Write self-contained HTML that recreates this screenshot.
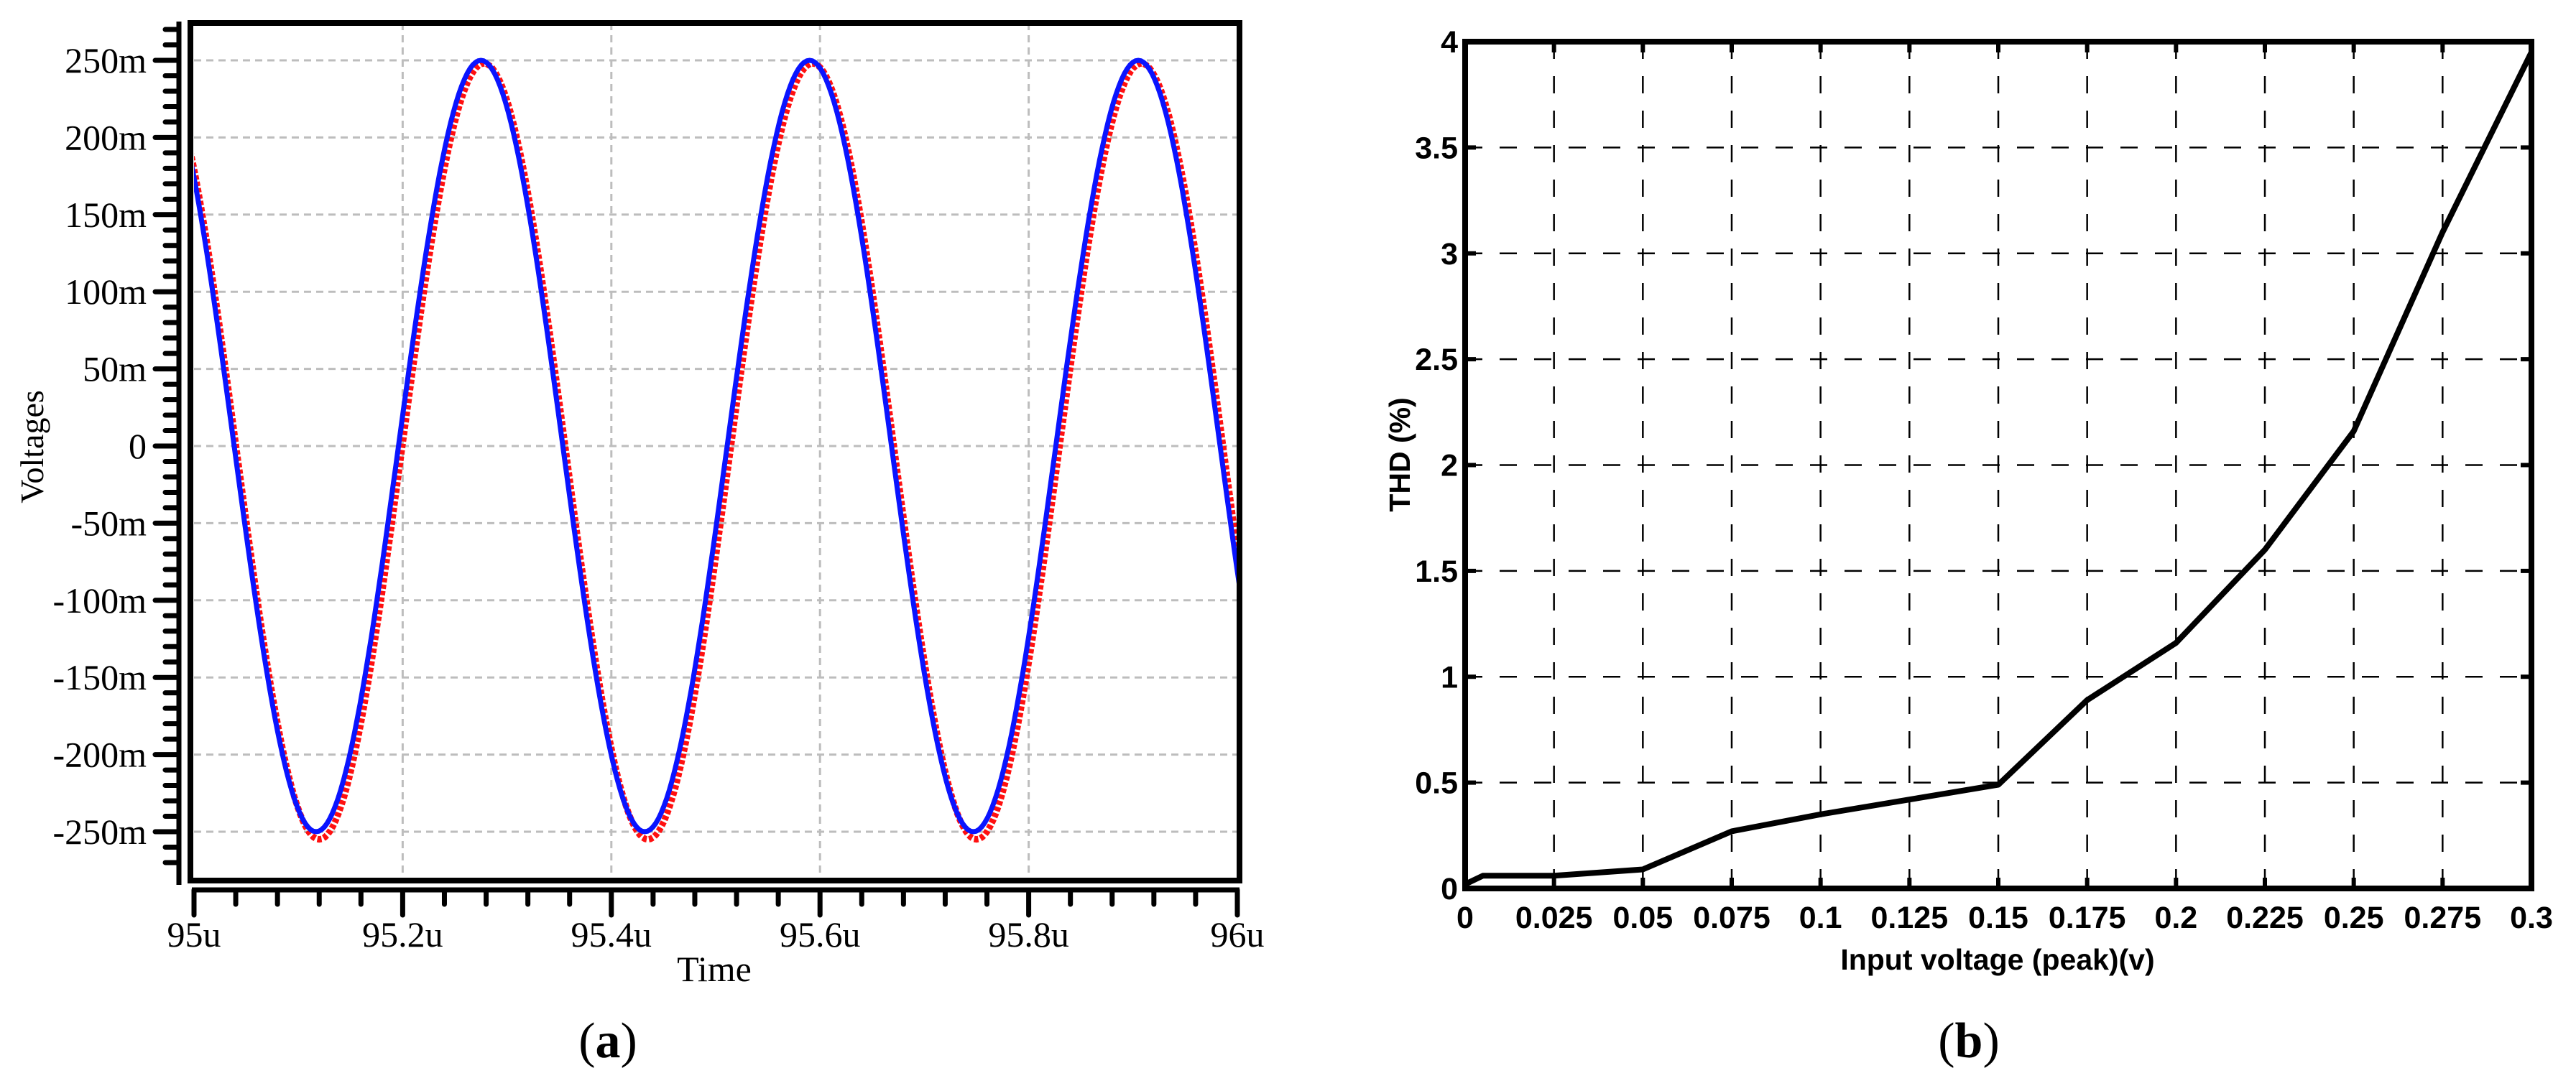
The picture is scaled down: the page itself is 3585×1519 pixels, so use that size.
<!DOCTYPE html>
<html><head><meta charset="utf-8"><style>
html,body{margin:0;padding:0;background:#fff;}
svg{display:block;}
</style></head><body>
<svg id="fig" width="3585" height="1519" viewBox="0 0 3585 1519" xmlns="http://www.w3.org/2000/svg">
<g id="chartA"></g>
<g id="chartB"></g>
<text x="846" y="1472" font-family="Liberation Serif, serif" font-size="70" text-anchor="middle">(<tspan font-weight="bold">a</tspan>)</text>
<text x="2740" y="1472" font-family="Liberation Serif, serif" font-size="70" text-anchor="middle">(<tspan font-weight="bold">b</tspan>)</text>
</svg>
<script>
const NS='http://www.w3.org/2000/svg';
// ---- Chart A data ----
const aXTicks=[95,95.2,95.4,95.6,95.8,96];
const aXTickLabels=['95u','95.2u','95.4u','95.6u','95.8u','96u'];
const aYTicks=[250,200,150,100,50,0,-50,-100,-150,-200,-250];
const aYTickLabels=['250m','200m','150m','100m','50m','0','-50m','-100m','-150m','-200m','-250m'];
// extrema (time in us, value in mV) of each waveform, incl. virtual extrema outside view
const blueExtTimes=[94.960,95.117,95.275,95.432,95.590,95.747,95.905,96.062];
const blueExtValues=[250,-250,250,-250,250,-250,250,-250];
const redExtTimes=[94.962,95.120,95.278,95.435,95.593,95.750,95.908,96.066];
const redExtValues=[248,-255,248,-255,248,-255,248,-255];
// ---- Chart B data ----
const bXTicks=[0,0.025,0.05,0.075,0.1,0.125,0.15,0.175,0.2,0.225,0.25,0.275,0.3];
const bXTickLabels=['0','0.025','0.05','0.075','0.1','0.125','0.15','0.175','0.2','0.225','0.25','0.275','0.3'];
const bYTicks=[0,0.5,1,1.5,2,2.5,3,3.5,4];
const bYTickLabels=['0','0.5','1','1.5','2','2.5','3','3.5','4'];
const thdX=[0,0.005,0.025,0.05,0.075,0.1,0.125,0.15,0.175,0.2,0.225,0.25,0.275,0.3];
const thdY=[0.02,0.06,0.06,0.09,0.27,0.35,0.42,0.49,0.89,1.16,1.6,2.16,3.1,3.95];

function mk(parent,tag,attrs){const e=document.createElementNS(NS,tag);for(const k in attrs)e.setAttribute(k,attrs[k]);parent.appendChild(e);return e;}

// ===== Chart A =====
(function(){
const g=document.getElementById('chartA');
const L=270,R=1722,T=32,B=1226;
const xA=t=>L+(t-95)/(96-95)*(R-L);
const yA=v=>84+(250-v)/500*(1158-84);
aXTicks.forEach((t,i)=>{ if(i==0||i==aXTicks.length-1) return;
 const l=mk(g,'line',{x1:xA(t),x2:xA(t),y1:T,y2:B,stroke:'#bdbdbd','stroke-width':3,'stroke-dasharray':'10 7'});
 
 
});
aYTicks.forEach(v=>{
 const l=mk(g,'line',{x1:L,x2:R,y1:yA(v),y2:yA(v),stroke:'#bdbdbd','stroke-width':3,'stroke-dasharray':'10 7'});
 
 
});
function curve(times,vals){
 let d='';
 for(let i=0;i<times.length-1;i++){
  const n=60;
  for(let k=0;k<=n;k++){
   const f=k/n, t=times[i]+(times[i+1]-times[i])*f;
   const v=vals[i]+(vals[i+1]-vals[i])*(1-Math.cos(Math.PI*f))/2;
   d+=(d?'L':'M')+xA(t).toFixed(1)+' '+yA(v).toFixed(1);
  }
 }
 return d;
}
const clip=mk(g,'clipPath',{id:'clipA'});
mk(clip,'rect',{x:L,y:T,width:R-L,height:B-T});
const red=mk(g,'path',{d:curve(redExtTimes,redExtValues),fill:'none',stroke:'#ff1010','stroke-width':9,'stroke-dasharray':'6 3','clip-path':'url(#clipA)'});


const blue=mk(g,'path',{d:curve(blueExtTimes,blueExtValues),fill:'none',stroke:'#0a14ff','stroke-width':7,'clip-path':'url(#clipA)'});


const fr=mk(g,'rect',{x:L-5,y:T,width:R-L+8,height:B-T,fill:'none',stroke:'#000','stroke-width':8});


const ya=mk(g,'line',{x1:249,x2:249,y1:30,y2:1232,stroke:'#000','stroke-width':7});


const step=(yA(200)-yA(250))/5;
for(let y=yA(250)-2*step;y<=yA(-250)+2*step+1;y+=step){
 const isMajor=aYTicks.some(v=>Math.abs(yA(v)-y)<1);
 mk(g,'line',{x1:isMajor?216:230,x2:249,y1:y,y2:y,stroke:'#000','stroke-width':7,'stroke-linecap':'round'});
}
aYTicks.forEach((v,i)=>{
 const t=mk(g,'text',{x:204,y:yA(v)+17,'font-family':'Liberation Serif, serif','font-size':50,'text-anchor':'end'});
 t.textContent=aYTickLabels[i];
 
 
});
const xa=mk(g,'line',{x1:L-3,x2:R+3,y1:1239,y2:1239,stroke:'#000','stroke-width':7});


for(let k=0;k<=25;k++){
 const x=L+k*(R-L)/25, major=k%5==0;
 mk(g,'line',{x1:x,x2:x,y1:1239,y2:major?1274:1259,stroke:'#000','stroke-width':7,'stroke-linecap':'round'});
}
aXTicks.forEach((t,i)=>{
 const tx=mk(g,'text',{x:xA(t),y:1318,'font-family':'Liberation Serif, serif','font-size':50,'text-anchor':'middle'});
 tx.textContent=aXTickLabels[i];
 
 
});
const xt=mk(g,'text',{x:994,y:1366,'font-family':'Liberation Serif, serif','font-size':50,'text-anchor':'middle'});
xt.textContent='Time';


const yt=mk(g,'text',{x:0,y:0,transform:'translate(60,622) rotate(-90)','font-family':'Liberation Serif, serif','font-size':46,'text-anchor':'middle'});
yt.textContent='Voltages';


})();

// ===== Chart B =====
(function(){
const g=document.getElementById('chartB');
const L=2039,R=3523,T=58,B=1237;
const xB=v=>L+v/0.3*(R-L);
const yB=v=>B-v/4*(B-T);
bXTicks.forEach((v,i)=>{ if(i==0||i==bXTicks.length-1) return;
 const l=mk(g,'line',{x1:xB(v),x2:xB(v),y1:T,y2:B,stroke:'#000','stroke-width':2.5,'stroke-dasharray':'24 24'});
 
 
 mk(g,'line',{x1:xB(v),x2:xB(v),y1:B-15,y2:B,stroke:'#000','stroke-width':6});
 mk(g,'line',{x1:xB(v),x2:xB(v),y1:T,y2:T+15,stroke:'#000','stroke-width':6});
});
bYTicks.forEach((v,i)=>{ if(i==0||i==bYTicks.length-1) return;
 const l=mk(g,'line',{x1:L,x2:R,y1:yB(v),y2:yB(v),stroke:'#000','stroke-width':2.5,'stroke-dasharray':'24 24'});
 
 
 mk(g,'line',{x1:L,x2:L+15,y1:yB(v),y2:yB(v),stroke:'#000','stroke-width':6});
 mk(g,'line',{x1:R-15,x2:R,y1:yB(v),y2:yB(v),stroke:'#000','stroke-width':6});
});
let d='';
thdX.forEach((x,i)=>{d+=(i?'L':'M')+xB(x).toFixed(1)+' '+yB(thdY[i]).toFixed(1);});
const ln=mk(g,'path',{d:d,fill:'none',stroke:'#000','stroke-width':8,'stroke-linejoin':'round'});


const fr=mk(g,'rect',{x:L,y:T,width:R-L,height:B-T,fill:'none',stroke:'#000','stroke-width':8});


bYTicks.forEach((v,i)=>{
 const t=mk(g,'text',{x:L-10,y:yB(v)+15,'font-family':'Liberation Sans, sans-serif','font-weight':'bold','font-size':43,'text-anchor':'end'});
 t.textContent=bYTickLabels[i];
 
 
});
bXTicks.forEach((v,i)=>{
 const t=mk(g,'text',{x:xB(v),y:1292,'font-family':'Liberation Sans, sans-serif','font-weight':'bold','font-size':43,'text-anchor':'middle'});
 t.textContent=bXTickLabels[i];
 
 
});
const xt=mk(g,'text',{x:2780,y:1350,'font-family':'Liberation Sans, sans-serif','font-weight':'bold','font-size':41,'text-anchor':'middle'});
xt.textContent='Input voltage (peak)(v)';


const yt=mk(g,'text',{x:0,y:0,transform:'translate(1962,633) rotate(-90)','font-family':'Liberation Sans, sans-serif','font-weight':'bold','font-size':41,'text-anchor':'middle'});
yt.textContent='THD (%)';


})();
</script>
</body></html>
